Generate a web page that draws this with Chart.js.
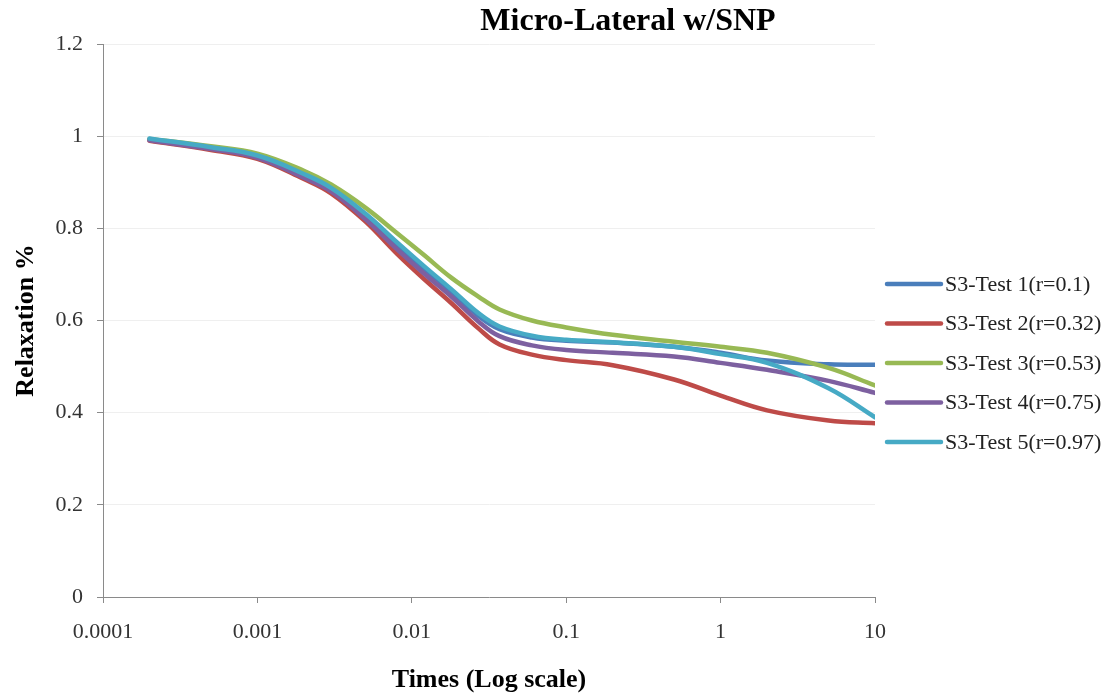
<!DOCTYPE html>
<html>
<head>
<meta charset="utf-8">
<script src="https://cdn.jsdelivr.net/npm/chart.js@4.4.1/dist/chart.umd.min.js"></script>
<style>
  html, body { margin: 0; padding: 0; background: #fff; }
</style>
</head>
<body>
<canvas id="relaxChart" width="1113" height="696"></canvas>
<script>
const times = [0.0002, 0.0005, 0.001, 0.002, 0.003, 0.005, 0.008, 0.012, 0.018, 0.027, 0.037, 0.06, 0.1, 0.2, 0.5, 1, 2, 5, 10];

const test1 = [0.993, 0.975, 0.957, 0.916, 0.885, 0.828, 0.765, 0.713, 0.663, 0.610, 0.581, 0.563, 0.556, 0.552, 0.543, 0.530, 0.513, 0.505, 0.504];
const test2 = [0.990, 0.970, 0.951, 0.907, 0.876, 0.815, 0.745, 0.690, 0.638, 0.583, 0.548, 0.526, 0.514, 0.503, 0.472, 0.437, 0.405, 0.383, 0.377];
const test3 = [0.994, 0.978, 0.962, 0.925, 0.895, 0.845, 0.790, 0.742, 0.693, 0.652, 0.624, 0.600, 0.585, 0.569, 0.554, 0.543, 0.530, 0.497, 0.459];
const test4 = [0.991, 0.972, 0.953, 0.910, 0.880, 0.820, 0.755, 0.702, 0.652, 0.598, 0.566, 0.546, 0.536, 0.530, 0.522, 0.508, 0.493, 0.469, 0.443];
const test5 = [0.995, 0.976, 0.958, 0.918, 0.888, 0.832, 0.770, 0.718, 0.668, 0.616, 0.587, 0.567, 0.558, 0.553, 0.543, 0.527, 0.508, 0.453, 0.390];

const seriesNames = ["S3-Test 1(r=0.1)", "S3-Test 2(r=0.32)", "S3-Test 3(r=0.53)", "S3-Test 4(r=0.75)", "S3-Test 5(r=0.97)"];
const seriesColors = ["#4a7ebb", "#be4b48", "#98b954", "#7d60a0", "#46aac5"];

const xTicks = [0.0001, 0.001, 0.01, 0.1, 1, 10];
const xTickLabels = ["0.0001", "0.001", "0.01", "0.1", "1", "10"];
const yTicks = [0, 0.2, 0.4, 0.6, 0.8, 1, 1.2];
const yTickLabels = ["0", "0.2", "0.4", "0.6", "0.8", "1", "1.2"];

const serif = "'Liberation Serif', 'Times New Roman', serif";

function toPoints(values) {
  return values.map((v, i) => ({ x: times[i], y: v }));
}

const allSeries = [test1, test2, test3, test4, test5];
const datasets = allSeries.map((values, i) => ({
  label: seriesNames[i],
  data: toPoints(values),
  borderColor: seriesColors[i],
  backgroundColor: seriesColors[i],
  borderWidth: 4.5,
  borderCapStyle: "round",
  pointRadius: 0,
  tension: 0.4,
  fill: false,
  order: allSeries.length - i, // later series drawn on top, like the original
}));

// title and legend drawn by hand so they sit where the original puts them
const decorations = {
  id: "decorations",
  afterDraw(chart) {
    const ctx = chart.ctx;
    ctx.save();
    ctx.fillStyle = "#000";
    ctx.font = "bold 32px " + serif;
    ctx.textAlign = "center";
    ctx.textBaseline = "middle";
    ctx.fillText("Micro-Lateral w/SNP", 628, 22);

    const x0 = chart.chartArea.right + 12;
    let y = 284;
    ctx.font = "22px " + serif;
    ctx.textAlign = "left";
    chart.data.datasets.forEach((ds) => {
      ctx.strokeStyle = ds.borderColor;
      ctx.lineWidth = 4.5;
      ctx.lineCap = "round";
      ctx.beginPath();
      ctx.moveTo(x0, y);
      ctx.lineTo(x0 + 54, y);
      ctx.stroke();
      ctx.fillStyle = "#222";
      ctx.fillText(ds.label, x0 + 58, y + 1);
      y += 39.5;
    });
    ctx.restore();
  },
};

new Chart(document.getElementById("relaxChart"), {
  type: "line",
  data: { datasets: datasets },
  plugins: [decorations],
  options: {
    responsive: false,
    animation: false,
    layout: { padding: { top: 44, right: 238, left: 0, bottom: 0 } },
    plugins: {
      legend: { display: false },
      tooltip: { enabled: false },
    },
    scales: {
      x: {
        type: "logarithmic",
        min: 0.0001,
        max: 10,
        afterBuildTicks: (scale) => {
          scale.ticks = xTicks.map((v) => ({ value: v }));
        },
        afterFit: (scale) => {
          scale.height = 99;
        },
        ticks: {
          autoSkip: false,
          maxRotation: 0,
          padding: 16,
          color: "#333",
          font: { family: serif, size: 22 },
          callback: (value) => xTickLabels[xTicks.indexOf(value)],
        },
        grid: {
          drawOnChartArea: false,
          tickLength: 6,
          tickColor: "#8a8a8a",
        },
        border: { color: "#8a8a8a", width: 1 },
        title: {
          display: true,
          text: "Times (Log scale)",
          color: "#000",
          font: { family: serif, size: 26, weight: "bold" },
          padding: { top: 0, bottom: 0 },
        },
      },
      y: {
        min: 0,
        max: 1.2,
        afterBuildTicks: (scale) => {
          scale.ticks = yTicks.map((v) => ({ value: v }));
        },
        afterFit: (scale) => {
          scale.width = 103;
        },
        ticks: {
          padding: 14,
          color: "#333",
          font: { family: serif, size: 22 },
          callback: (value) => yTickLabels[yTicks.indexOf(value)],
        },
        grid: {
          color: "#efefef",
          tickLength: 6,
          tickColor: "#8a8a8a",
        },
        border: { color: "#8a8a8a", width: 1 },
        title: {
          display: true,
          text: "Relaxation %",
          color: "#000",
          font: { family: serif, size: 26, weight: "bold" },
          padding: { top: 11, bottom: 0 },
        },
      },
    },
  },
});
</script>
</body>
</html>
